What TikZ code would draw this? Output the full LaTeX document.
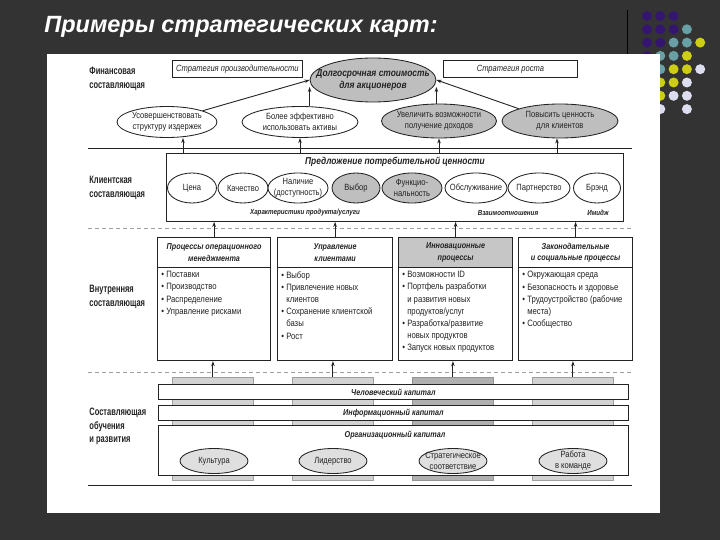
\documentclass[tikz,border=0pt]{standalone}
\usepackage{fontspec}
\setmainfont{Liberation Sans}
\newfontfamily\slimfont[FakeStretch=0.84]{Liberation Sans}
\newfontfamily\slimmerfont[FakeStretch=0.7]{Liberation Sans}
\usetikzlibrary{shapes.geometric,arrows.meta}

\definecolor{slide}{RGB}{51,51,51}
\definecolor{ink}{RGB}{35,35,35}
\definecolor{ovalgray}{RGB}{190,190,190}
\definecolor{dotpurple}{RGB}{52,22,112}
\definecolor{dotteal}{RGB}{105,160,165}
\definecolor{dotyellow}{RGB}{205,205,22}
\definecolor{dotlav}{RGB}{220,222,240}
\newcommand{\bulind}{\hphantom{\textbullet\ }}

\begin{document}
\begin{tikzpicture}[x=1pt, y=-1pt, line width=0.85pt, draw=ink,
  every node/.style={font=\slimfont\fontsize{9}{11}\selectfont, inner sep=0pt, text=ink},
  oval/.style={ellipse, draw, align=center, inner xsep=-14pt, inner ysep=-4pt, fill=white},
  grayoval/.style={oval, fill=ovalgray},
  sect/.style={anchor=north west, align=left, font=\slimmerfont\bfseries\fontsize{10.7}{13.5}\selectfont},
  bi/.style={font=\slimfont\bfseries\itshape\fontsize{8.6}{11.5}\selectfont, align=center},
  stratbox/.style={draw, minimum height=17, anchor=north west, font=\slimfont\itshape\fontsize{9}{10}\selectfont},
  procbox/.style={draw, line width=1.2pt, anchor=north west, minimum width=114},
  itemtext/.style={anchor=north west, align=left, font=\slimfont\fontsize{9.2}{12.2}\selectfont},
  pillar/.style={draw=gray!75, fill=gray!35, minimum width=81, minimum height=103, anchor=north west},
  band/.style={draw, fill=white, minimum width=470, anchor=north west},
  arr/.style={-{Stealth[length=5pt,width=3.5pt]}, line width=0.9pt},
  secline/.style={gray!75, dash pattern=on 4pt off 3pt}]

  % slide background and dots
  \fill[slide] (0,0) rectangle (720,540);
  \draw[black, line width=1pt] (627,10) -- (627,56);
  \foreach \c/\r in {0/0,1/0,2/0,0/1,1/1,2/1,0/2,1/2,0/3}
    \fill[dotpurple] (647+13.3*\c,16+13.3*\r) circle (5);
  \foreach \c/\r in {3/1,2/2,3/2,1/3,2/3,1/4}
    \fill[dotteal] (647+13.3*\c,16+13.3*\r) circle (5);
  \foreach \c/\r in {4/2,3/3,2/4,3/4,1/5,2/5,1/6}
    \fill[dotyellow] (647+13.3*\c,16+13.3*\r) circle (5);
  \foreach \c/\r in {4/4,3/5,2/6,3/6,1/7,3/7}
    \fill[dotlav] (647+13.3*\c,16+13.3*\r) circle (5);
  \node[anchor=west, text=white, font=\bfseries\itshape\fontsize{23.5}{28}\selectfont] (title) at (44,27) {Примеры стратегических карт:};
  \fill[white] (47,54) rectangle (660,513);

  % financial
  \node[sect] (finlab) at (89,67) {Финансовая\\составляющая};
  \node[stratbox, minimum width=130] (prod) at (172,60) {Стратегия производительности};
  \node[stratbox, minimum width=134] (growth) at (443,60) {Стратегия роста};
  \node[grayoval, minimum width=126, minimum height=44, font=\slimfont\bfseries\itshape\fontsize{10}{12}\selectfont] (value) at (373,80) {Долгосрочная стоимость\\для акционеров};
  \node[oval, minimum width=100, minimum height=31] (cost) at (167,122) {Усовершенствовать\\структуру издержек};
  \node[oval, minimum width=116, minimum height=31] (assets) at (300,122) {Более эффективно\\использовать активы};
  \node[grayoval, minimum width=115, minimum height=34] (revenue) at (439,121) {Увеличить возможности\\получение доходов};
  \node[grayoval, minimum width=116, minimum height=34] (clients) at (560,121) {Повысить ценность\\для клиентов};
  \draw[arr] (cost.north east) -- (value.west);
  \draw[arr, shorten >=7pt] (assets.north -| value.west) -- (value.west);
  \draw[arr, shorten >=7pt] (revenue.north -| value.east) -- (value.east);
  \draw[arr] (clients.north west) -- (value.east);
  \draw (88,148) -- (632,148);

  % customer
  \node[sect] (custlab) at (89,176) {Клиентская\\составляющая};
  \node[draw, minimum width=457, minimum height=68, anchor=north west] (vp) at (166,153) {};
  \node[font=\slimfont\bfseries\itshape\fontsize{10}{12}\selectfont] (vptitle) at (395,162) {Предложение потребительной ценности};
  \node[oval, minimum width=49, minimum height=30] (price) at (192,188) {Цена};
  \node[oval, minimum width=50, minimum height=30] (quality) at (243,188) {Качество};
  \node[oval, minimum width=60, minimum height=30] (avail) at (298,188) {Наличие\\(доступность)};
  \node[grayoval, minimum width=48, minimum height=30, fill=gray!50] (choice) at (356,188) {Выбор};
  \node[grayoval, minimum width=60, minimum height=30, fill=gray!50] (func) at (412,188) {Функцио-\\нальность};
  \node[oval, minimum width=62, minimum height=30] (service) at (476,188) {Обслуживание};
  \node[oval, minimum width=62, minimum height=30] (partner) at (539,188) {Партнерство};
  \node[oval, minimum width=47, minimum height=30] (brand) at (597,188) {Брэнд};
  \node[bi, font=\slimfont\bfseries\itshape\fontsize{7.4}{9}\selectfont] (prodchar) at (305,213) {Характеристики продукта/услуги};
  \node[bi, font=\slimfont\bfseries\itshape\fontsize{7.4}{9}\selectfont] (relat) at (508,213) {Взаимоотношения};
  \node[bi, font=\slimfont\bfseries\itshape\fontsize{7.4}{9}\selectfont] (image) at (598,213) {Имидж};
  \draw[arr] ([xshift=16]cost.south |- vp.north) -- ([xshift=16]cost.south);
  \draw[arr] (assets.south |- vp.north) -- (assets.south);
  \draw[arr] (revenue.south |- vp.north) -- (revenue.south);
  \draw[arr] ([xshift=-3]clients.south |- vp.north) -- ([xshift=-3]clients.south);
  \draw[secline] (88,228) -- (632,228);

  % internal
  \node[sect] (intlab) at (89,285) {Внутренняя\\составляющая};
  \node[procbox, minimum width=113, minimum height=30, bi] (opsh) at (157,237) {Процессы операционного\\менеджмента};
  \node[procbox, minimum width=113, minimum height=93] (ops) at (157,267) {};
  \node[procbox, minimum width=115, minimum height=30, bi] (custh) at (277,237) {Управление\\клиентами};
  \node[procbox, minimum width=115, minimum height=93] (cust) at (277,267) {};
  \node[procbox, minimum width=114, minimum height=30, bi, fill=gray!45] (innh) at (398,237) {Инновационные\\процессы};
  \node[procbox, minimum width=114, minimum height=93] (inn) at (398,267) {};
  \node[procbox, minimum width=114, minimum height=30, bi] (regh) at (518,237) {Законодательные\\и социальные процессы};
  \node[procbox, minimum width=114, minimum height=93] (reg) at (518,267) {};
  \node[itemtext] (opsl) at (161,271) {\textbullet\ Поставки\\\textbullet\ Производство\\\textbullet\ Распределение\\\textbullet\ Управление рисками};
  \node[itemtext] (custl) at (281,271) {\textbullet\ Выбор\\\textbullet\ Привлечение новых\\\bulind клиентов\\\textbullet\ Сохранение клиентской\\\bulind базы\\\textbullet\ Рост};
  \node[itemtext] (innl) at (402,271) {\textbullet\ Возможности ID\\\textbullet\ Портфель разработки\\\bulind и развития новых\\\bulind продуктов/услуг\\\textbullet\ Разработка/развитие\\\bulind новых продуктов\\\textbullet\ Запуск новых продуктов};
  \node[itemtext] (regl) at (522,271) {\textbullet\ Окружающая среда\\\textbullet\ Безопасность и здоровье\\\textbullet\ Трудоустройство (рабочие\\\bulind места)\\\textbullet\ Сообщество};
  \foreach \h in {opsh,custh,innh,regh}
    \draw[arr] (\h.north) -- (\h.north |- vp.south);
  \draw[secline] (88,372) -- (632,372);

  % learning and growth
  \node[sect] (learnlab) at (89,408) {Составляющая\\обучения\\и развития};
  \node[pillar] (p1) at (172,377) {};
  \node[pillar] (p2) at (292,377) {};
  \node[pillar, fill=gray!62, draw=gray!85] (p3) at (412,377) {};
  \node[pillar] (p4) at (532,377) {};
  \node[band, minimum height=15] (human) at (158,384) {};
  \node[band, minimum height=15] (info) at (158,405) {};
  \node[band, minimum height=50] (org) at (158,425) {};
  \node[bi] at (human) {Человеческий капитал};
  \node[bi] at (info) {Информационный капитал};
  \node[bi] (orgtitle) at (395,435) {Организационный капитал};
  \node[grayoval, minimum width=68, minimum height=25, fill=gray!25] (culture) at (214,461) {Культура};
  \node[grayoval, minimum width=68, minimum height=25, fill=gray!25] (leader) at (333,461) {Лидерство};
  \node[grayoval, minimum width=68, minimum height=25, fill=gray!25] (align) at (453,461) {Стратегическое\\соответствие};
  \node[grayoval, minimum width=68, minimum height=25, fill=gray!25] (team) at (573,461) {Работа\\в команде};
  \draw[arr] (p1.north) -- (p1.north |- ops.south);
  \draw[arr] (p2.north) -- (p2.north |- cust.south);
  \draw[arr] (p3.north) -- (p3.north |- inn.south);
  \draw[arr] (p4.north) -- (p4.north |- reg.south);
  \draw (88,485) -- (632,485);
\end{tikzpicture}
\end{document}
